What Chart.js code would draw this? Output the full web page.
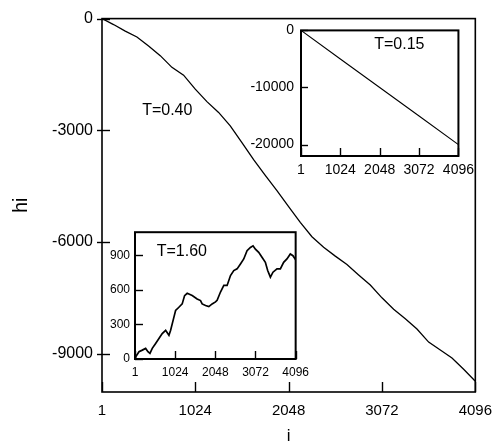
<!DOCTYPE html>
<html>
<head>
<meta charset="utf-8">
<script src="https://cdn.jsdelivr.net/npm/chart.js@4.4.1/dist/chart.umd.min.js"></script>
<style>
html, body { margin: 0; padding: 0; background: #fff; }
#wrap { position: relative; width: 502px; height: 445px; }
canvas { position: absolute; }
</style>
</head>
<body>
<div id="wrap">
<canvas id="main" width="502" height="445" style="left:0px;top:0px"></canvas>
<canvas id="insetA" width="240" height="175" style="left:240px;top:15px"></canvas>
<canvas id="insetB" width="220" height="165" style="left:95px;top:220px"></canvas>
</div>
<script>
// T=0.40 (main plot)
var idx = [1,128,256,384,512,640,768,896,1024,1152,1280,1408,1536,1664,1792,1920,2048,
	2176,2304,2432,2560,2688,2816,2944,3072,3200,3328,3456,3584,3712,3840,3968,4096];
var hMain = [0,-160,-335,-495,-735,-995,-1310,-1520,-1895,-2230,-2520,-2880,-3330,-3790,-4210,-4620,-5050,
	-5475,-5860,-6140,-6380,-6605,-6885,-7155,-7500,-7805,-8060,-8340,-8690,-8900,-9115,-9420,-9740];
// T=1.60 (lower inset)
var idxHigh = [1,19,103,187,272,331,382,441,527,611,695,782,866,909,993,1036,1120,1204,1265,1331,
	1459,1585,1671,1713,1799,1883,1967,2053,2094,2180,2265,2349,2435,2519,2603,2689,2773,2857,2943,
	3010,3070,3154,3238,3324,3383,3452,3518,3620,3706,3790,3874,3960,4027,4096];
var hHigh = [0,20,63,77,92,63,49,92,135,178,221,249,206,249,363,421,449,478,550,570,
	550,521,507,478,464,455,478,495,509,581,638,638,724,767,782,825,868,939,968,
	982,953,925,882,839,767,710,753,782,782,839,868,911,896,860];
// T=0.15 (upper inset)
var idxLow = [1,1024,2048,3072,4096];
var hLow = [0,-5000,-10000,-15000,-20000];

var xTicks = [1,1024,2048,3072,4096];
var yTicksMain = [0,-3000,-6000,-9000];
var yTicksLow = [0,-10000,-20000];
var yTicksHigh = [0,300,600,900];

var FONT = "'Liberation Sans', Arial, Helvetica, sans-serif";

// box, inward tick marks and the T= label
var framePlugin = {
	id: 'frame',
	beforeDraw: function(chart) {
		var a = chart.chartArea, ctx = chart.ctx;
		ctx.save();
		ctx.fillStyle = '#fff';
		ctx.fillRect(a.left, a.top, a.right - a.left, a.bottom - a.top);
		ctx.restore();
	},
	afterDraw: function(chart, args, opts) {
		var a = chart.chartArea, ctx = chart.ctx;
		var sx = chart.scales.x, sy = chart.scales.y;
		ctx.save();
		ctx.strokeStyle = '#000';
		ctx.lineWidth = opts.lw;
		ctx.strokeRect(a.left, a.top, a.right - a.left, a.bottom - a.top);
		ctx.lineWidth = opts.tw;
		sx.ticks.forEach(function(t) {
			var px = Math.round(sx.getPixelForValue(t.value)) + 0.5;
			ctx.beginPath();
			ctx.moveTo(px, a.bottom);
			ctx.lineTo(px, a.bottom - opts.xin);
			ctx.stroke();
		});
		sy.ticks.forEach(function(t) {
			var py = Math.round(sy.getPixelForValue(t.value)) + 0.5;
			ctx.beginPath();
			ctx.moveTo(a.left - opts.yout, py);
			ctx.lineTo(a.left + opts.yin, py);
			ctx.stroke();
		});
		ctx.fillStyle = '#000';
		ctx.font = opts.font;
		ctx.textAlign = 'center';
		ctx.textBaseline = 'middle';
		ctx.fillText(opts.text, sx.getPixelForValue(opts.at[0]), sy.getPixelForValue(opts.at[1]));
		ctx.restore();
	}
};

function buildOptions(o) {
	return {
		responsive: false,
		animation: false,
		devicePixelRatio: 1,
		layout: { padding: { top: o.padTop, right: o.padRight, left: 0, bottom: 0 } },
		plugins: {
			legend: { display: false },
			tooltip: { enabled: false },
			frame: o.frame
		},
		elements: { point: { radius: 0 }, line: { tension: 0 } },
		scales: {
			x: {
				type: 'linear', min: 1, max: 4096,
				afterBuildTicks: function(s) { s.ticks = xTicks.map(function(v) { return { value: v }; }); },
				afterFit: function(s) { s.height = o.xH; },
				grid: { display: false, drawTicks: false },
				border: { display: false },
				ticks: { color: '#000', font: { family: FONT, size: o.fs }, padding: o.xPad, maxRotation: 0, autoSkip: false,
					callback: function(v) { return String(v); } },
				title: o.xTitle || { display: false }
			},
			y: {
				type: 'linear', min: o.yMin, max: o.yMax,
				afterBuildTicks: function(s) { s.ticks = o.yTicks.map(function(v) { return { value: v }; }); },
				afterFit: function(s) { s.width = o.yW; },
				grid: { display: false, drawTicks: false },
				border: { display: false },
				ticks: { color: '#000', font: { family: FONT, size: o.yfs || o.fs }, padding: o.yPad, autoSkip: false,
					callback: function(v) { return String(v); } },
				title: o.yTitle || { display: false }
			}
		}
	};
}

function series(xs, ys) {
	return xs.map(function(x, i) { return { x: x, y: ys[i] }; });
}

new Chart(document.getElementById('main'), {
	type: 'line',
	data: { datasets: [{ data: series(idx, hMain), borderColor: '#000', borderWidth: 1.3, fill: false }] },
	options: buildOptions({
		padTop: 16, padRight: 25, xH: 53, yW: 102, fs: 15, yfs: 16, xPad: 10, yPad: 9,
		yMin: -10030, yMax: 0, yTicks: yTicksMain,
		xTitle: { display: true, text: 'i', color: '#000', font: { family: FONT, size: 17, lineHeight: 1 }, padding: { top: 0, bottom: 0 } },
		yTitle: { display: true, text: 'hi', color: '#000', font: { family: FONT, size: 20, lineHeight: 1.2 }, padding: { top: 9, bottom: 0 } },
		frame: { lw: 1.6, tw: 1.4, xin: 10, yin: 8, yout: 5, font: '16px ' + FONT, text: 'T=0.40', at: [717, -2480] }
	}),
	plugins: [framePlugin]
});

new Chart(document.getElementById('insetA'), {
	type: 'line',
	data: { datasets: [{ data: series(idxLow, hLow), borderColor: '#000', borderWidth: 1.1, fill: false }] },
	options: buildOptions({
		padTop: 14, padRight: 19, xH: 34, yW: 61, fs: 14, xPad: 6, yPad: 7,
		yMin: -22000, yMax: 0, yTicks: yTicksLow,
		frame: { lw: 2, tw: 1.4, xin: 8, yin: 7, yout: 0, font: '16px ' + FONT, text: 'T=0.15', at: [2560, -2430] }
	}),
	plugins: [framePlugin]
});

new Chart(document.getElementById('insetB'), {
	type: 'line',
	data: { datasets: [{ data: series(idxHigh, hHigh), borderColor: '#000', borderWidth: 1.7, fill: false }] },
	options: buildOptions({
		padTop: 11, padRight: 19, xH: 26, yW: 40, fs: 12, xPad: 6, yPad: 5,
		yMin: 0, yMax: 1100, yTicks: yTicksHigh,
		frame: { lw: 2, tw: 1.4, xin: 8, yin: 8, yout: 0, font: '16px ' + FONT, text: 'T=1.60', at: [1196, 930] }
	}),
	plugins: [framePlugin]
});
</script>
</body>
</html>
